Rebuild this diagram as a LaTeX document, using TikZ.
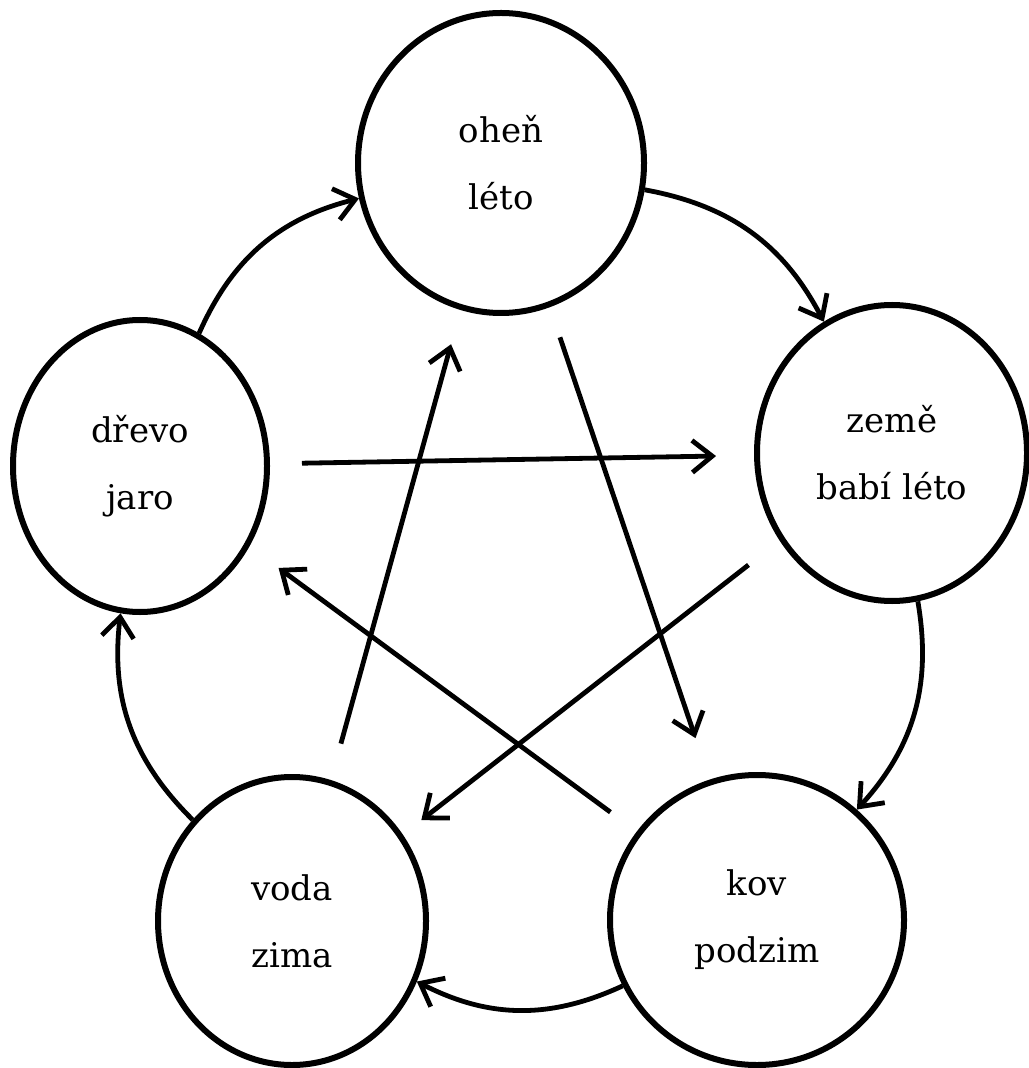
\documentclass[tikz,border=0pt]{standalone}
\usepackage{fontspec}
\setmainfont{DejaVu Serif}
\usetikzlibrary{arrows.meta,shapes.geometric}

\tikzset{
  elem/.style={draw, ellipse, line width=3pt, inner sep=0pt, align=center,
               font=\fontsize{17}{33.5}\selectfont},
  ring/.style={-{Straight Barb[length=10pt,width=16pt]}, line width=2.4pt, bend left=26},
  cross/.style={-{Straight Barb[length=10pt,width=16pt]}, line width=2.4pt}
}

\begin{document}
\begin{tikzpicture}[x=0.5pt, y=-0.5pt]
\useasboundingbox (0,0) rectangle (1028,1068);

% Fire (top)
\node[elem, minimum width=143pt, minimum height=150pt] (ohen) at (501,163) {oheň\\léto};

% Earth (right)
\node[elem, minimum width=135pt, minimum height=148pt] (zeme) at (892,453) {země\\babí léto};

% Metal (bottom right)
\node[elem, minimum width=147pt, minimum height=145pt] (kov) at (757,920) {kov\\podzim};

% Water (bottom left)
\node[elem, minimum width=134pt, minimum height=144pt] (voda) at (292,921) {voda\\zima};

% Wood (left)
\node[elem, minimum width=127pt, minimum height=146pt] (drevo) at (140,466) {dřevo\\jaro};

% Outer cycle
\draw[ring] (drevo) to (ohen);
\draw[ring] (ohen) to (zeme);
\draw[ring] (zeme) to (kov);
\draw[ring] (kov) to (voda);
\draw[ring] (voda) to (drevo);

% Inner star
\draw[cross, shorten <=81pt, shorten >=88pt] (drevo.center) -- (zeme.center);
\draw[cross, shorten <=92pt, shorten >=96pt] (ohen.center) -- (kov.center);
\draw[cross, shorten <=91pt, shorten >=82pt] (zeme.center) -- (voda.center);
\draw[cross, shorten <=91pt, shorten >=86pt] (kov.center) -- (drevo.center);
\draw[cross, shorten <=92pt, shorten >=94pt] (voda.center) -- (ohen.center);

\end{tikzpicture}
\end{document}
